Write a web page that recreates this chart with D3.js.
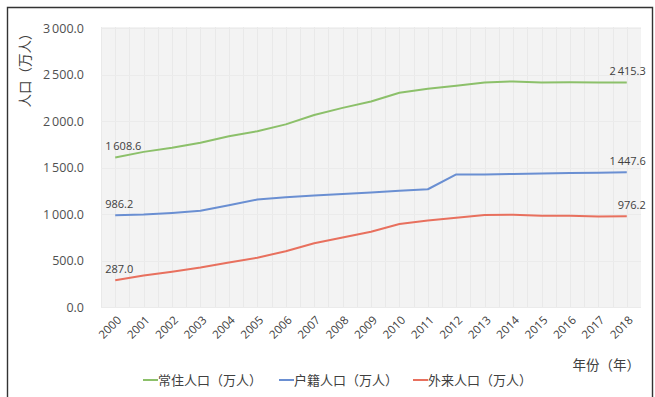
<!DOCTYPE html>
<html>
<head>
<meta charset="utf-8">
<script src="https://cdn.jsdelivr.net/npm/d3@7"></script>
<style>
  html, body { margin: 0; padding: 0; background: #fff; }
  svg { display: block; }
  text { font-family: "Open Sans", "Noto Sans CJK SC", sans-serif; }
  .cjk { font-family: "Noto Sans CJK SC", "Open Sans", sans-serif; }
</style>
</head>
<body>
<svg id="chart" width="655" height="397"></svg>
<script>
// Population (10k persons), 2000–2018
const years = ["2000","2001","2002","2003","2004","2005","2006","2007","2008","2009",
               "2010","2011","2012","2013","2014","2015","2016","2017","2018"];
const resident   = [1608.6, 1668, 1713, 1766, 1835, 1890, 1964, 2064, 2141, 2210,
                    2303, 2347, 2380, 2415, 2426, 2415, 2416, 2415, 2415.3];
const registered = [986.2, 995, 1012, 1035, 1095, 1155, 1180, 1198, 1214, 1230,
                    1250, 1266, 1425, 1425, 1430, 1435, 1440, 1444, 1447.6];
const migrant    = [287.0, 338, 380, 425, 478, 530, 600, 685, 748, 810,
                    893, 930, 960, 990, 993, 982, 980, 973, 976.2];
const yTicks = [0, 500, 1000, 1500, 2000, 2500, 3000];
const seriesNames = ["常住人口（万人）", "户籍人口（万人）", "外来人口（万人）"];
const seriesColors = ["#8cc06a", "#6a8fd2", "#e8705e"];

const svg = d3.select("#chart");
const W = 655, H = 397;
const plot = { left: 101, right: 641, top: 27, bottom: 308 };

// outer frame (left, top, right edges)
svg.append("path")
  .attr("d", `M7.5,${H} V7.5 H652.5 V${H}`)
  .attr("fill", "none").attr("stroke", "#333").attr("stroke-width", 1.4);

const x = d3.scaleBand().domain(years).range([plot.left, plot.right]);
const y = d3.scaleLinear().domain([0, 3000]).range([307, 28]);

// plot background
svg.append("rect")
  .attr("x", plot.left).attr("y", plot.top)
  .attr("width", plot.right - plot.left).attr("height", plot.bottom - plot.top)
  .attr("fill", "#f3f3f3");

// faint vertical grid
const grid = svg.append("g").attr("stroke", "#e9e9e9").attr("stroke-width", 1);
years.forEach(d => {
  const x0 = x(d), bw = x.bandwidth();
  [x0, x0 + bw / 2].forEach(gx => {
    grid.append("line")
      .attr("x1", Math.round(gx) + 0.5).attr("x2", Math.round(gx) + 0.5)
      .attr("y1", plot.top).attr("y2", plot.bottom);
  });
});
// faint horizontal grid
yTicks.forEach(t => {
  grid.append("line")
    .attr("x1", plot.left).attr("x2", plot.right)
    .attr("y1", Math.round(y(t)) + 0.5).attr("y2", Math.round(y(t)) + 0.5)
    .attr("stroke", "#ebebeb");
});

// number formatting with a thin space for thousands
const fmt = v => {
  const s = d3.format(".1f")(v);
  const [i, f] = s.split(".");
  return (i.length > 3 ? i.slice(0, -3) + "\u2009" + i.slice(-3) : i) + "." + f;
};

// y axis
const yAxis = d3.axisLeft(y).tickValues(yTicks).tickFormat(fmt).tickSize(0).tickPadding(0);
const gy = svg.append("g").attr("transform", "translate(84,0)").call(yAxis);
gy.select(".domain").remove();
gy.selectAll("text").attr("font-size", 12.5).attr("fill", "#505050");

// x axis
const xAxis = d3.axisBottom(x).tickSize(0).tickPadding(0);
const gx = svg.append("g").attr("transform", `translate(0,${plot.bottom})`).call(xAxis);
gx.select(".domain").remove();
gx.selectAll("text")
  .attr("font-size", 11.5).attr("fill", "#404040")
  .attr("text-anchor", "end")
  .attr("dy", "0.35em")
  .attr("transform", "translate(4,10) rotate(-45)");

// axis titles
svg.append("text").attr("class", "cjk")
  .attr("transform", "translate(25,67) rotate(-90)")
  .attr("text-anchor", "middle").attr("dy", "0.35em")
  .attr("font-size", 13.5).attr("fill", "#404040")
  .text("人口（万人）");
svg.append("text").attr("class", "cjk")
  .attr("x", 640).attr("y", 365).attr("text-anchor", "end").attr("dy", "0.35em")
  .attr("font-size", 13.5).attr("fill", "#404040")
  .text("年份（年）");

// lines
const allSeries = [resident, registered, migrant];
const line = d3.line()
  .x((d, i) => x(years[i]) + x.bandwidth() / 2)
  .y(d => y(d));
allSeries.forEach((vals, k) => {
  svg.append("path")
    .datum(vals)
    .attr("fill", "none")
    .attr("stroke", seriesColors[k])
    .attr("stroke-width", 2)
    .attr("stroke-linejoin", "round")
    .attr("d", line);
});

// first / last value labels
const cx = i => x(years[i]) + x.bandwidth() / 2;
allSeries.forEach(vals => {
  const n = vals.length - 1;
  svg.append("text")
    .attr("x", cx(0) - 10).attr("y", y(vals[0]) - 7)
    .attr("font-size", 11).attr("fill", "#404040")
    .text(fmt(vals[0]));
  svg.append("text")
    .attr("x", cx(n) + 19).attr("y", y(vals[n]) - 7)
    .attr("text-anchor", "end")
    .attr("font-size", 11).attr("fill", "#404040")
    .text(fmt(vals[n]));
});

// legend
const legendX = [143, 279, 413];
seriesNames.forEach((name, k) => {
  const g = svg.append("g").attr("transform", `translate(${legendX[k]},380)`);
  g.append("line").attr("x1", 0).attr("x2", 15).attr("y1", 0).attr("y2", 0)
    .attr("stroke", seriesColors[k]).attr("stroke-width", 2);
  g.append("text").attr("class", "cjk")
    .attr("x", 15).attr("dy", "0.35em")
    .attr("font-size", 13).attr("fill", "#404040")
    .text(name);
});
</script>
</body>
</html>
